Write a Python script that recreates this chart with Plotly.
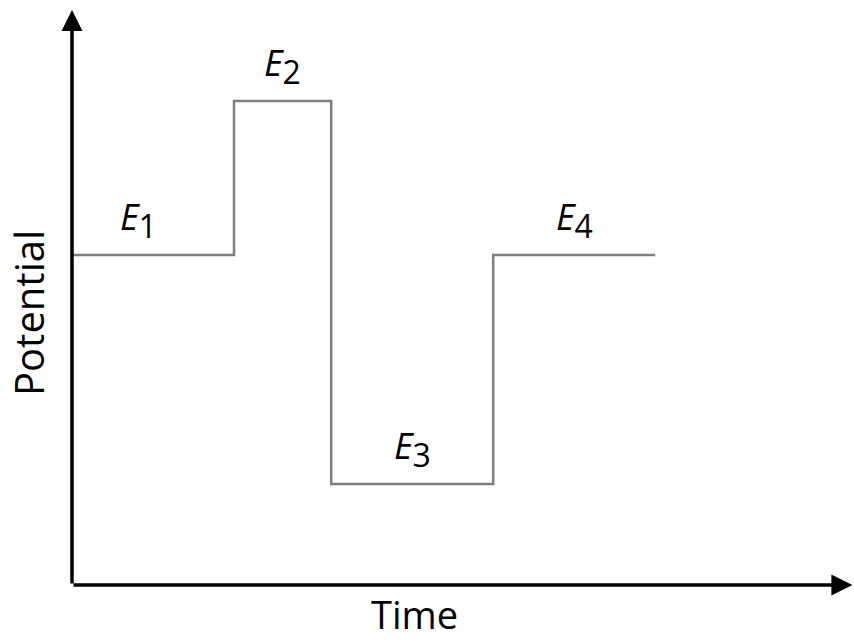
import plotly.graph_objects as go

# potential-step waveform: each level held between consecutive time edges
step_edges = [0.0, 1.0, 1.6, 2.6, 3.6]
levels = [3.3, 4.84, 1.01, 3.3]
level_labels = ["1", "2", "3", "4"]

BLACK = "#000000"
GREY = "#7f7f7f"
FONT = "Open Sans"

W, H = 854, 642
X0_PX, Y0_PX = 72, 585      # origin of the axes inside the figure
X_UNIT, Y_UNIT = 162, 100   # pixels per unit

xs, ys = [], []
for i, v in enumerate(levels):
    xs += [step_edges[i], step_edges[i + 1]]
    ys += [v, v]

fig = go.Figure()
fig.add_trace(go.Scatter(x=xs, y=ys, mode="lines",
                         line=dict(color=GREY, width=2.5),
                         hoverinfo="skip", showlegend=False))

x_range = [-X0_PX / X_UNIT, (W - X0_PX) / X_UNIT]
y_range = [-(H - Y0_PX) / Y_UNIT, Y0_PX / Y_UNIT]

# axes drawn as arrows from the origin
fig.add_annotation(x=x_range[1] - 0.01, y=0, ax=0, ay=0, xref="x", yref="y",
                   axref="x", ayref="y", showarrow=True, arrowhead=2,
                   arrowsize=1.2, arrowwidth=3.5, arrowcolor=BLACK, text="")
fig.add_annotation(x=0, y=y_range[1] - 0.1, ax=0, ay=0, xref="x", yref="y",
                   axref="x", ayref="y", showarrow=True, arrowhead=2,
                   arrowsize=1.2, arrowwidth=3.5, arrowcolor=BLACK, text="")

label_nudge = [-15, 0, 0, 0]
for i, (v, lab) in enumerate(zip(levels, level_labels)):
    mid = (step_edges[i] + step_edges[i + 1]) / 2
    fig.add_annotation(
        x=mid, y=v, xref="x", yref="y", showarrow=False,
        xanchor="center", yanchor="bottom", yshift=6, xshift=label_nudge[i],
        text=f"<i>E</i><sub><span style='font-size:32px'>{lab}</span></sub>",
        font=dict(family=FONT, size=36, color=BLACK),
    )

fig.add_annotation(x=28 / W, y=1 - 313 / H, xref="paper", yref="paper",
                   text="Potential", textangle=-90, showarrow=False,
                   xanchor="center", yanchor="middle",
                   font=dict(family=FONT, size=40, color=BLACK))
fig.add_annotation(x=414 / W, y=0, xref="paper", yref="paper",
                   text="Time", showarrow=False,
                   xanchor="center", yanchor="bottom",
                   font=dict(family=FONT, size=38, color=BLACK))

fig.update_layout(
    width=W, height=H,
    margin=dict(l=0, r=0, t=0, b=0),
    paper_bgcolor="white", plot_bgcolor="white",
    xaxis=dict(range=x_range, visible=False, fixedrange=True),
    yaxis=dict(range=y_range, visible=False, fixedrange=True),
    showlegend=False,
)

# drop the browser's default body margin so the figure fills the window
fig.write_html("out.html", config={"displayModeBar": False},
               post_script="document.body.style.margin = '0';")
